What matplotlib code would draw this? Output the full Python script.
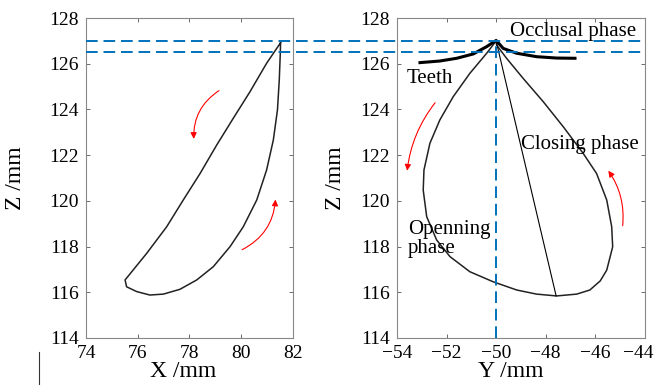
import matplotlib; matplotlib.use("Agg")
import matplotlib.pyplot as plt
from matplotlib.lines import Line2D
from matplotlib.transforms import blended_transform_factory, ScaledTranslation

plt.rcParams.update({"font.family": "Liberation Serif", "font.size": 14,
                     "axes.edgecolor": "#888888", "xtick.color": "#555555", "ytick.color": "#555555",
                     "xtick.labelcolor": "black", "ytick.labelcolor": "black"})

BLUE = "#0072BD"

# left panel: X-Z trajectory
x_path = [81.52, 80.98, 80.34, 79.69, 79.05, 78.41, 77.76, 77.12, 76.35, 75.51, 75.57, 75.96,
          76.47, 76.99, 77.63, 78.28, 78.92, 79.57, 80.08, 80.60, 80.98, 81.24, 81.40, 81.47,
          81.51, 81.52]
z_path_x = [126.92, 126.02, 124.78, 123.61, 122.44, 121.20, 120.04, 118.87, 117.71, 116.54,
            116.24, 116.03, 115.88, 115.92, 116.13, 116.54, 117.12, 118.00, 118.87, 120.04,
            121.35, 122.66, 123.98, 125.29, 126.46, 126.92]

# right panel: Y-Z trajectory
y_path = [-50.0, -50.38, -51.06, -51.73, -52.27, -52.67, -52.91, -52.94, -52.80, -52.40, -51.86,
          -51.06, -50.12, -49.17, -48.37, -47.56, -46.75, -46.22, -45.80, -45.54, -45.30, -45.34,
          -45.54, -45.95, -46.49, -47.29, -48.10, -48.91, -49.58, -49.98, -50.0]
z_path_y = [127.0, 126.46, 125.58, 124.56, 123.54, 122.52, 121.35, 120.47, 119.31, 118.29, 117.56,
            116.90, 116.46, 116.10, 115.92, 115.84, 115.92, 116.10, 116.50, 116.97, 117.99, 118.87,
            120.04, 121.20, 122.08, 123.24, 124.34, 125.36, 126.24, 126.82, 127.0]
chord_y = [-50.0, -47.58]
chord_z = [127.0, 115.84]
teeth_y = [-53.07, -52.27, -51.59, -50.92, -50.38, -50.0, -49.71, -49.17, -48.37, -47.56, -46.82]
teeth_z = [126.05, 126.12, 126.24, 126.43, 126.75, 127.02, 126.67, 126.46, 126.31, 126.25, 126.24]

occlusal_z = [127.0, 126.5]
center_y = -50

fig = plt.figure(figsize=(6.55, 3.85), dpi=100)
ax1 = fig.add_axes([0.1313, 0.1221, 0.316, 0.831])
ax2 = fig.add_axes([0.606, 0.1221, 0.3786, 0.831])

for ax in (ax1, ax2):
    ax.set_ylim(114, 128)
    ax.set_yticks(range(114, 129, 2))
    ax.tick_params(direction="in", length=3, top=True, right=True, pad=5, width=0.6)
    for s in ax.spines.values():
        s.set_linewidth(0.8)

ax1.plot(x_path, z_path_x, color="#222222", lw=1.1)
ax1.set_xlim(74, 82)
ax1.set_xticks(range(74, 83, 2))
ax1.set_xlabel("X /mm", fontsize=17)
ax1.set_ylabel("Z /mm", fontsize=17)
ax1.xaxis.set_label_coords(0.47, -0.072)
ax1.yaxis.set_label_coords(-0.29, 0.5)

ax2.plot(y_path, z_path_y, color="#222222", lw=1.1)
ax2.plot(chord_y, chord_z, color="black", lw=0.8)
ax2.plot(teeth_y, teeth_z, color="black", lw=2.2)
ax2.plot([center_y, center_y], [114, occlusal_z[0]], color=BLUE, lw=1.4, ls=(0, (6, 3)))
ax2.set_xlim(-54, -44)
ax2.set_xticks(range(-54, -43, 2))
ax2.set_xticklabels(["\u221254", "\u221252", "\u221250", "\u221248", "\u221246", "\u221244"])
ax2.set_xlabel("Y /mm", fontsize=17)
ax2.set_ylabel("Z /mm", fontsize=17)
ax2.xaxis.set_label_coords(0.46, -0.072)
ax2.yaxis.set_label_coords(-0.205, 0.5)
# nudge the last tick label a few pixels left so it stays on the canvas
last = ax2.get_xticklabels()[-1]
last.set_transform(last.get_transform() + ScaledTranslation(-0.07, 0, fig.dpi_scale_trans))

# dashed occlusal band across both panels
tr = blended_transform_factory(fig.transFigure, ax1.transData)
for zv in occlusal_z:
    fig.add_artist(Line2D([86 / 655, 645 / 655], [zv, zv], transform=tr, color=BLUE,
                          lw=1.4, ls=(0, (6, 3))))

# red direction arrows
arr = dict(arrowstyle="-|>", color="red", lw=0.8, mutation_scale=9)
ax1.annotate("", xy=(78.17, 122.59), xytext=(79.23, 124.89),
             arrowprops=dict(arr, connectionstyle="arc3,rad=0.3"))
ax1.annotate("", xy=(81.33, 120.18), xytext=(79.94, 117.81),
             arrowprops=dict(arr, connectionstyle="arc3,rad=0.3"))
ax2.annotate("", xy=(-53.60, 121.2), xytext=(-52.39, 124.39),
             arrowprops=dict(arr, connectionstyle="arc3,rad=0.15"))
ax2.annotate("", xy=(-45.54, 121.42), xytext=(-44.91, 118.79),
             arrowprops=dict(arr, connectionstyle="arc3,rad=0.2"))

ax2.text(-49.45, 127.42, "Occlusal phase", va="center", ha="left", fontsize=15)
ax2.text(-53.6, 125.37, "Teeth", va="center", ha="left", fontsize=15)
ax2.text(-49.0, 122.45, "Closing phase", va="center", ha="left", fontsize=15)
ax2.text(-53.55, 118.35, "Openning\nphase", va="center", ha="left", linespacing=1.0, fontsize=15)

# stray mark at bottom left
fig.add_artist(Line2D([39 / 655, 39 / 655], [0.0, 33 / 385], transform=fig.transFigure,
                      color="#333333", lw=0.8))

fig.savefig("out.png", dpi=100)
